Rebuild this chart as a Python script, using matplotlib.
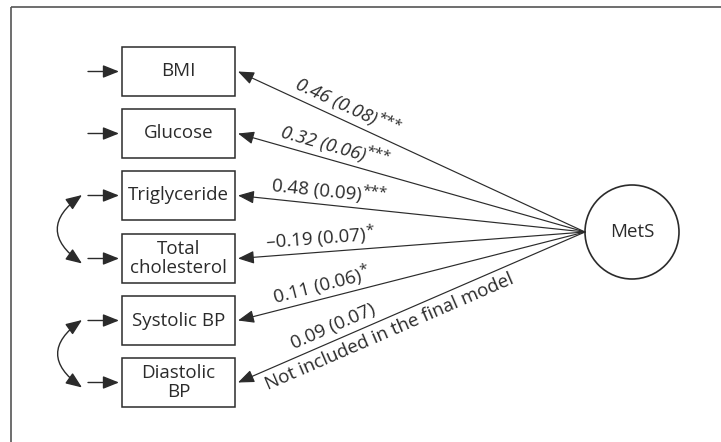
"""
VIEW: PATH DIAGRAM - MetS LATENT FACTOR
"""

# IMPORTS
import numpy as np
import matplotlib
matplotlib.use("Agg")
import matplotlib.pyplot as plt
from matplotlib.patches import Rectangle, Circle, FancyArrowPatch


# PARAMETERS
plt.rcParams['font.family'] = ['Open Sans', 'DejaVu Sans']

# DATA
indicators = ["BMI", "Glucose", "Triglyceride", "Total\ncholesterol", "Systolic BP", "Diastolic\nBP"]
loadings = ["0.46 (0.08)", "0.32 (0.06)", "0.48 (0.09)", "\u20130.19 (0.07)", "0.11 (0.06)", "0.09 (0.07)"]
signif = ["***", "***", "***", "*", "*", ""]
notes = ["", "", "", "", "", "Not included in the final model"]
italic = [True, True, False, False, False, False]
latent = "MetS"
# residual correlations between indicators (index pairs)
correlated = [(2, 3), (4, 5)]

# LAYOUT (pixels)
W, H = 721, 442
BOX_X0, BOX_X1 = 122, 235
BOX_H = 49
BOX_Y = [71.5, 133.5, 195.5, 258.5, 320.5, 382.5]
CIRC_X, CIRC_Y, CIRC_R = 632, 232, 47
LABEL_T = [0.30, 0.27, 0.26, 0.24, 0.25, 0.29]
NOTE_T = 0.42
INK = '#2b2b2b'
FS = 13.5
FS_STAR = 11


# VIEW
fig = plt.figure(figsize=(W / 100, H / 100), dpi=100)
ax = fig.add_axes([0, 0, 1, 1])
ax.set_xlim(0, W)
ax.set_ylim(H, 0)
ax.axis('off')
renderer = fig.canvas.get_renderer()


def text_width(s, size, style='normal'):
    t = ax.text(0, 0, s, fontsize=size, style=style)
    w = t.get_window_extent(renderer).width
    t.remove()
    return w


# frame (top and left only)
ax.plot([11, W], [7, 7], color='#555555', lw=1.2, solid_capstyle='butt')
ax.plot([11, 11], [7, H], color='#555555', lw=1.2, solid_capstyle='butt')

head = '-|>,head_length=0.7,head_width=0.28'

for i, name in enumerate(indicators):
    yc = BOX_Y[i]
    ax.add_patch(Rectangle((BOX_X0, yc - BOX_H / 2), BOX_X1 - BOX_X0, BOX_H,
                           fill=False, edgecolor=INK, lw=1.1))
    ax.text((BOX_X0 + BOX_X1) / 2, yc, name, ha='center', va='center',
            fontsize=FS, color=INK, linespacing=1.1)
    # residual arrow
    ax.add_patch(FancyArrowPatch((88, yc), (119, yc), arrowstyle=head,
                                 mutation_scale=14, color=INK, lw=1.0,
                                 shrinkA=0, shrinkB=0))
    # loading arrow from MetS
    x0, y0 = CIRC_X - CIRC_R, CIRC_Y
    x1, y1 = BOX_X1 + 3, yc
    ax.add_patch(FancyArrowPatch((x0, y0), (x1, y1), arrowstyle=head,
                                 mutation_scale=14, color=INK, lw=0.85,
                                 shrinkA=0, shrinkB=0))
    dx, dy = x0 - x1, y0 - y1
    L = np.hypot(dx, dy)
    ux, uy = dx / L, dy / L
    nx, ny = uy, -ux
    if ny > 0:
        nx, ny = -nx, -ny
    ang = np.degrees(np.arctan2(-dy, dx))
    t = LABEL_T[i]
    style = 'italic' if italic[i] else 'normal'
    cx, cy = x1 + t * dx + 13 * nx, y1 + t * dy + 13 * ny
    w_main = text_width(loadings[i], FS, style)
    w_star = text_width(signif[i], FS_STAR) if signif[i] else 0.0
    total = w_main + w_star
    mx = cx + (w_main / 2 - total / 2) * ux
    my = cy + (w_main / 2 - total / 2) * uy
    ax.text(mx, my, loadings[i], rotation=ang, rotation_mode='anchor',
            ha='center', va='center', fontsize=FS, color=INK, style=style)
    if signif[i]:
        off = total / 2 - w_star / 2
        ax.text(cx + off * ux + 5 * nx, cy + off * uy + 5 * ny, signif[i],
                rotation=ang, rotation_mode='anchor', ha='center', va='center',
                fontsize=FS_STAR, color=INK)
    if notes[i]:
        px, py = x1 + NOTE_T * dx, y1 + NOTE_T * dy
        ax.text(px - 14 * nx, py - 14 * ny, notes[i], rotation=ang,
                rotation_mode='anchor', ha='center', va='center',
                fontsize=FS, color=INK)

# correlated residuals
for a, b in correlated:
    ax.add_patch(FancyArrowPatch((82, BOX_Y[a] - 0.5), (82, BOX_Y[b] + 5),
                                 arrowstyle='<|-|>,head_length=0.7,head_width=0.28',
                                 connectionstyle='arc3,rad=0.7', mutation_scale=14,
                                 color=INK, lw=1.0, shrinkA=0, shrinkB=0))

# latent variable
ax.add_patch(Circle((CIRC_X, CIRC_Y), CIRC_R, fill=False, edgecolor=INK, lw=1.2))
ax.text(CIRC_X, CIRC_Y, latent, ha='center', va='center', fontsize=FS, color=INK)

plt.savefig("out.png", dpi=100)
